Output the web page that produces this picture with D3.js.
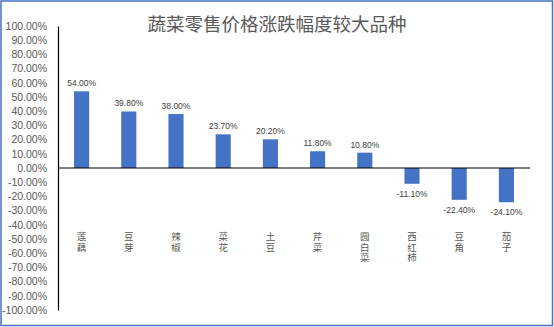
<!DOCTYPE html>
<html>
<head>
<meta charset="utf-8">
<script src="https://cdn.jsdelivr.net/npm/d3@7"></script>
<style>
  html, body { margin: 0; padding: 0; background: #fff; }
  svg { display: block; }
</style>
</head>
<body>
<svg id="chart" width="554" height="327"></svg>
<script>
// Vegetable retail price change (%)
const categories = ["莲藕", "豆芽", "辣椒", "菜花", "土豆", "芹菜", "圆白菜", "西红柿", "豆角", "茄子"];
const changes = [54.0, 39.8, 38.0, 23.7, 20.2, 11.8, 10.8, -11.1, -22.4, -24.1];
const yTicks = d3.range(-100, 101, 10);
const title = "蔬菜零售价格涨跌幅度较大品种";

const svg = d3.select("#chart");
const W = 554, H = 327;
const plot = { left: 58, right: 530, top: 26, bottom: 310 };
const latin = "'Liberation Sans', Arial, sans-serif";
const cjk = "'Noto Sans CJK SC', sans-serif";

// chart frame
svg.append("rect")
  .attr("x", 1).attr("y", 1).attr("width", W - 2.5).attr("height", H - 2.5)
  .attr("fill", "#fff").attr("stroke", "#4472C4").attr("stroke-width", 1.5);

svg.append("text")
  .attr("x", 277).attr("y", 31)
  .attr("text-anchor", "middle")
  .attr("font-family", cjk).attr("font-size", 18.5)
  .attr("fill", "#595959")
  .text(title);

const x = d3.scaleBand().domain(categories).range([plot.left, plot.right]).paddingInner(0.68).paddingOuter(0.34);
const y = d3.scaleLinear().domain([-100, 100]).range([plot.bottom, plot.top]);

// y axis
const yAxis = d3.axisLeft(y).tickValues(yTicks).tickSize(0).tickPadding(11)
  .tickFormat(d => d.toFixed(2) + "%");
const ya = svg.append("g").attr("transform", `translate(${plot.left},0)`).call(yAxis);
ya.select(".domain").attr("stroke", "#000").attr("stroke-width", 1.2);
ya.selectAll("text").attr("font-family", latin).attr("font-size", 10.5).attr("fill", "#595959");

// bars
svg.append("g").selectAll("rect").data(changes).join("rect")
  .attr("x", (d, i) => x(categories[i]))
  .attr("width", x.bandwidth())
  .attr("y", d => y(Math.max(0, d)))
  .attr("height", d => Math.abs(y(d) - y(0)))
  .attr("fill", "#4472C4");

// zero line
svg.append("line")
  .attr("x1", plot.left).attr("x2", plot.right)
  .attr("y1", y(0)).attr("y2", y(0))
  .attr("stroke", "#000").attr("stroke-width", 1.2);

// value labels
svg.append("g").selectAll("text").data(changes).join("text")
  .attr("x", (d, i) => x(categories[i]) + x.bandwidth() / 2)
  .attr("y", d => d >= 0 ? y(d) - 5 : y(d) + 13)
  .attr("text-anchor", "middle")
  .attr("font-family", latin).attr("font-size", 8.5)
  .attr("fill", "#404040")
  .text(d => d.toFixed(2) + "%");

// category labels, stacked top to bottom
svg.append("g").selectAll("text").data(categories).join("text")
  .attr("x", c => x(c) + x.bandwidth() / 2)
  .attr("y", 232)
  .attr("text-anchor", "start")
  .style("writing-mode", "vertical-rl")
  .style("text-orientation", "upright")
  .style("letter-spacing", "1px")
  .attr("font-family", cjk).attr("font-size", 9.5)
  .attr("fill", "#595959")
  .text(c => c);
</script>
</body>
</html>
